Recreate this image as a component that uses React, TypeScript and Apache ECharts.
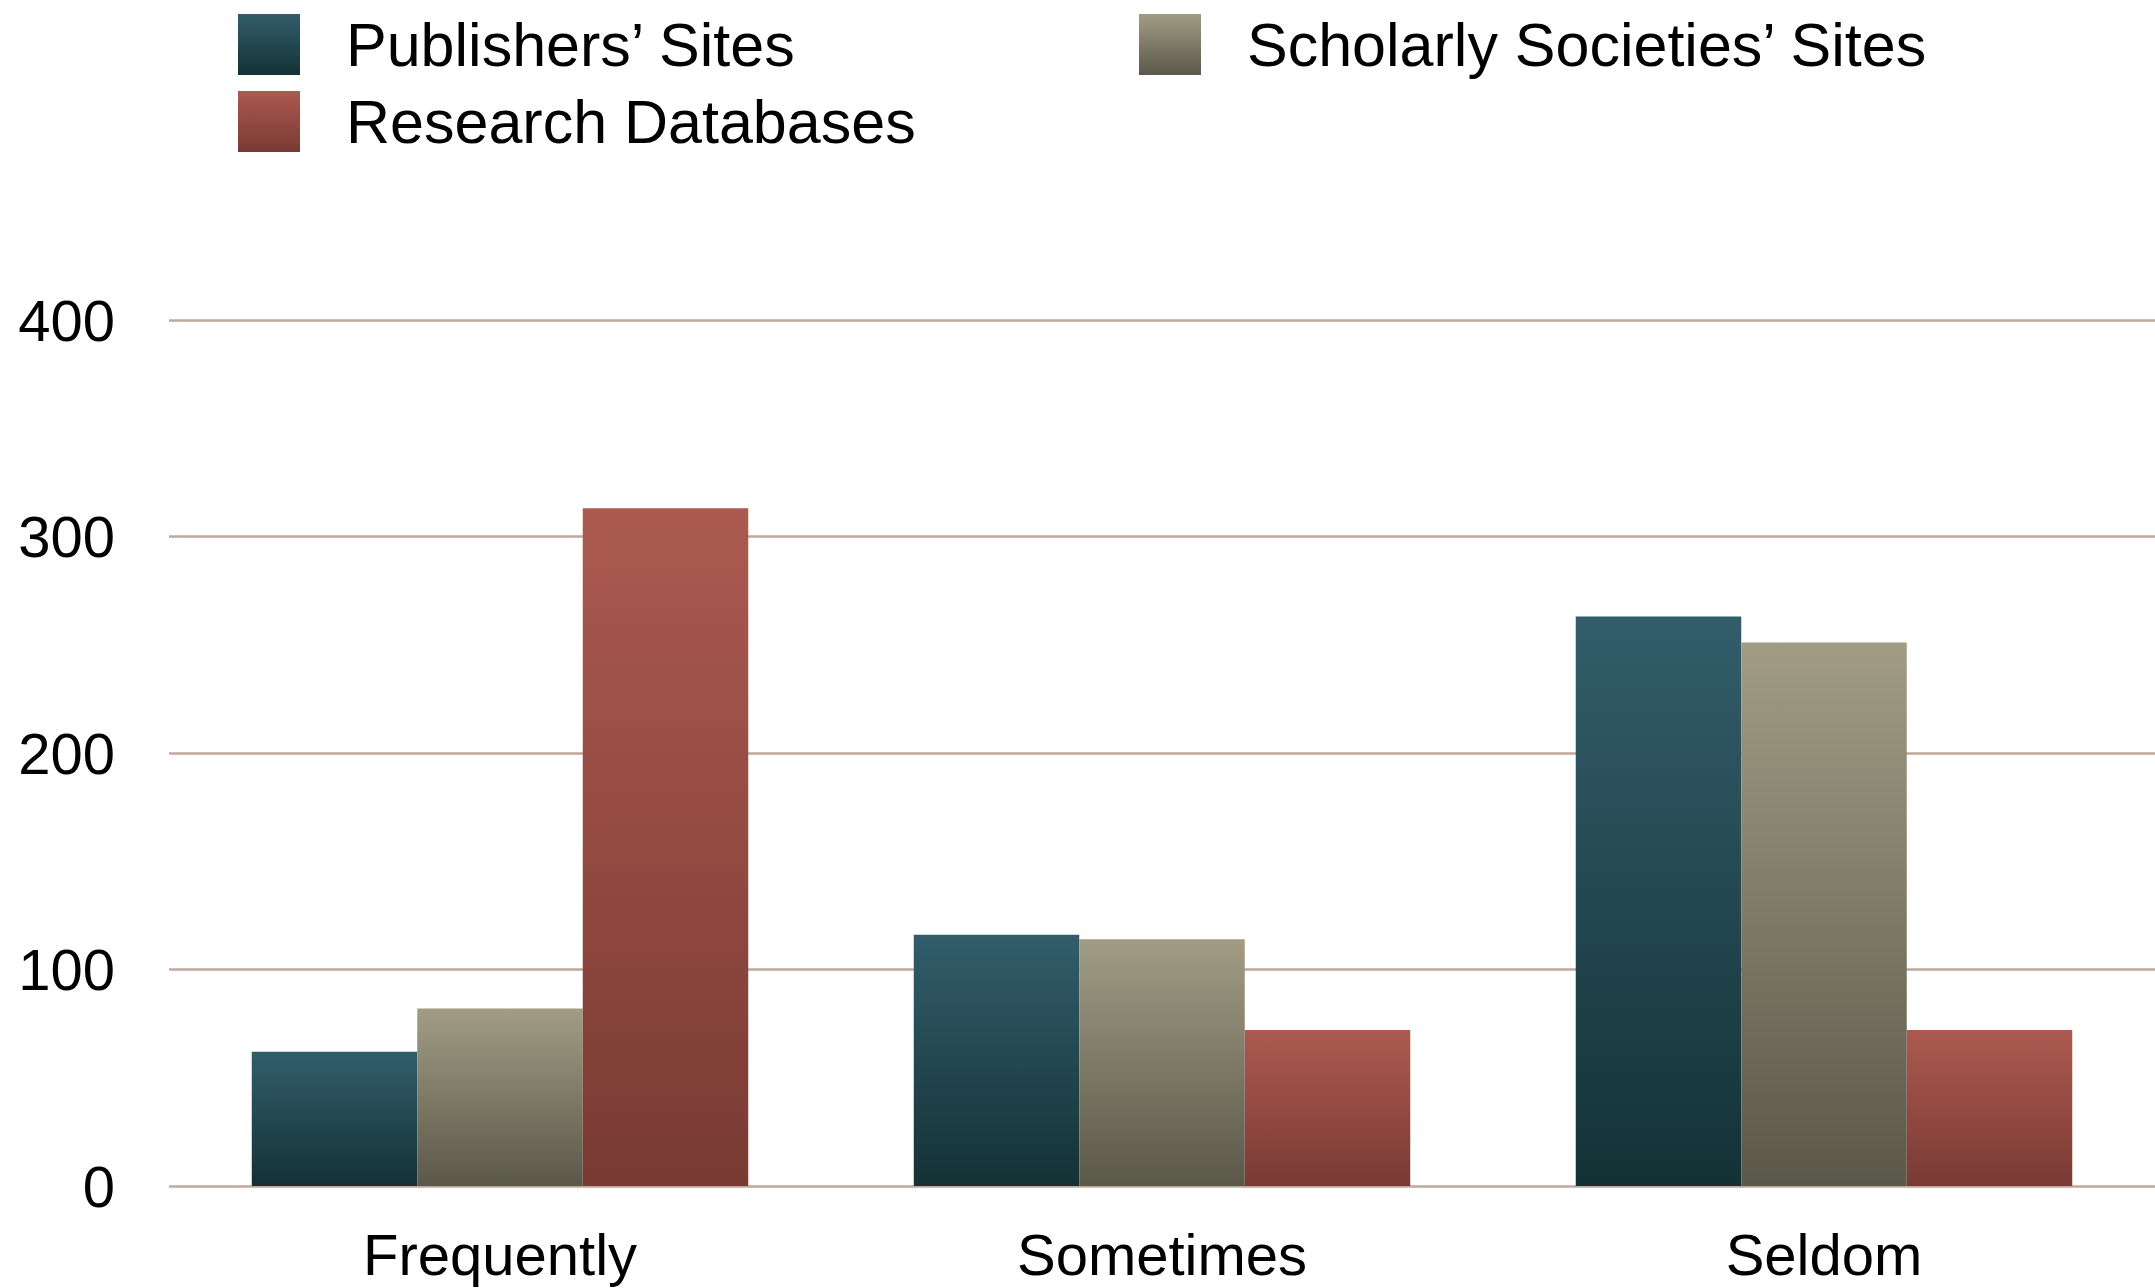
import React, { useEffect, useRef } from "react";
import * as echarts from "echarts";

// Where researchers look for sources, by frequency of use
const categories = ["Frequently", "Sometimes", "Seldom"];
const publishersSites = [62, 116, 263];
const scholarlySocietiesSites = [82, 114, 251];
const researchDatabases = [313, 72, 72];
const yTicks = { min: 0, max: 400, interval: 100 };

const FONT = "'Liberation Sans', Arial, Helvetica, sans-serif";

const vGrad = (top: string, bottom: string) =>
  new echarts.graphic.LinearGradient(0, 0, 0, 1, [
    { offset: 0, color: top },
    { offset: 1, color: bottom },
  ]);

export default function App() {
  const ref = useRef<HTMLDivElement>(null);

  useEffect(() => {
    if (!ref.current) return;
    const chart = echarts.init(ref.current, null, { renderer: "svg" });

    const legendText = {
      fontFamily: FONT,
      fontSize: 61,
      color: "#000",
      padding: [0, 0, 0, 41],
    };

    chart.setOption({
      animation: false,
      backgroundColor: "#ffffff",
      legend: [
        {
          data: ["Publishers’ Sites", "Research Databases"],
          orient: "vertical",
          left: 238,
          top: 14,
          itemWidth: 62,
          itemHeight: 61,
          itemGap: 16,
          icon: "rect",
          padding: 0,
          textStyle: legendText,
          selectedMode: false,
        },
        {
          data: ["Scholarly Societies’ Sites"],
          orient: "vertical",
          left: 1139,
          top: 14,
          itemWidth: 62,
          itemHeight: 61,
          itemGap: 16,
          icon: "rect",
          padding: 0,
          textStyle: legendText,
          selectedMode: false,
        },
      ],
      grid: { left: 169, right: 0, top: 320, bottom: 102, containLabel: false },
      xAxis: {
        type: "category",
        data: categories,
        axisLine: { show: false },
        axisTick: { show: false },
        axisLabel: {
          fontFamily: FONT,
          fontSize: 58,
          color: "#000",
          margin: 39,
        },
      },
      yAxis: {
        type: "value",
        min: yTicks.min,
        max: yTicks.max,
        interval: yTicks.interval,
        axisLine: { show: false },
        axisTick: { show: false },
        axisLabel: {
          fontFamily: FONT,
          fontSize: 58,
          color: "#000",
          margin: 54,
          padding: [8, 0, 0, 0],
        },
        splitLine: { lineStyle: { color: "#bfa89b", width: 2.5 } },
      },
      series: [
        {
          name: "Publishers’ Sites",
          type: "bar",
          data: publishersSites,
          barGap: "0%",
          barCategoryGap: "25%",
          itemStyle: { color: vGrad("#335d6b", "#133236") },
        },
        {
          name: "Scholarly Societies’ Sites",
          type: "bar",
          data: scholarlySocietiesSites,
          barGap: "0%",
          barCategoryGap: "25%",
          itemStyle: { color: vGrad("#a29c84", "#5a584a") },
        },
        {
          name: "Research Databases",
          type: "bar",
          data: researchDatabases,
          barGap: "0%",
          barCategoryGap: "25%",
          itemStyle: { color: vGrad("#ac5a4f", "#793a34") },
        },
      ],
    });

    return () => chart.dispose();
  }, []);

  return (
    <div
      ref={ref}
      style={{ position: "fixed", left: 0, top: 0, width: 2155, height: 1288 }}
    />
  );
}
